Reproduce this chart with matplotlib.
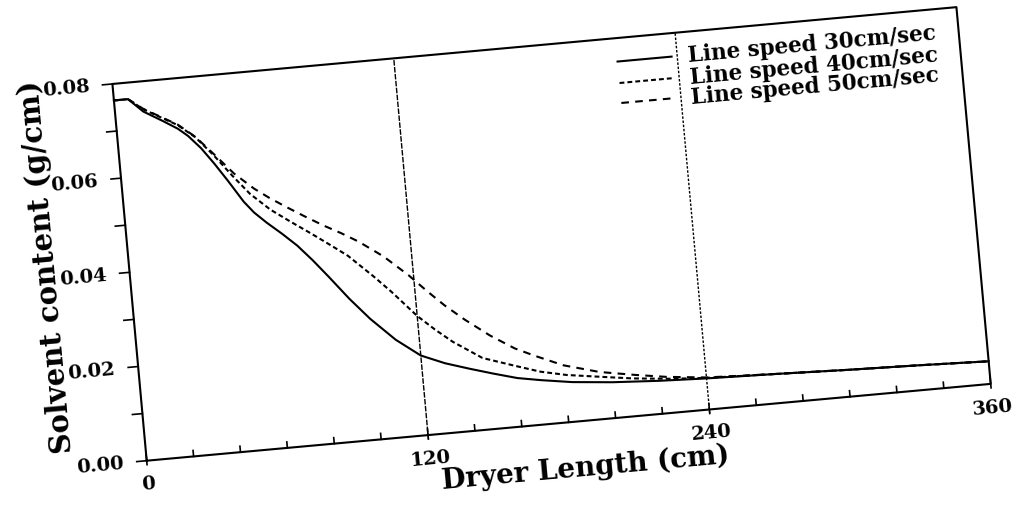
import matplotlib
matplotlib.use('Agg')
import matplotlib.pyplot as plt
from matplotlib.transforms import Affine2D, blended_transform_factory

# data (dryer length in cm, solvent content in g/cm)
x_30 = [0, 6, 12, 20, 26, 30, 35, 40, 45, 51, 55, 60, 66, 72, 78, 84, 92, 100, 110,
        120, 130, 140, 150, 160, 170, 183, 200, 220, 240, 270, 300, 330, 360]
y_30 = [0.0765, 0.0765, 0.0736, 0.0712, 0.0693, 0.0676, 0.0648, 0.0613, 0.0575,
        0.0527, 0.0502, 0.0478, 0.0452, 0.0424, 0.0390, 0.0353, 0.0302, 0.0256,
        0.0207, 0.0169, 0.0148, 0.0132, 0.0117, 0.0103, 0.0094, 0.0084, 0.0076,
        0.0070, 0.0066, 0.0062, 0.0057, 0.0053, 0.0048]

x_40 = [0, 6, 12, 20, 26, 33, 40, 47, 54, 62, 70, 78, 86, 93, 103, 110, 120,
        127, 134, 146, 159, 170, 181, 199, 209, 225, 240, 270, 300, 330, 360]
y_40 = [0.0765, 0.0765, 0.0741, 0.0718, 0.0701, 0.0672, 0.0631, 0.0585, 0.0542,
        0.0505, 0.0476, 0.0448, 0.0419, 0.0393, 0.0345, 0.0309, 0.0253, 0.0221,
        0.0192, 0.0152, 0.0130, 0.0112, 0.0100, 0.0087, 0.0080, 0.0072, 0.0067,
        0.0062, 0.0057, 0.0053, 0.0048]

x_50 = [0, 6, 12, 20, 26, 33, 40, 48, 56, 62, 69, 76, 84, 91, 98, 108, 118, 125,
        132, 140, 150, 160, 168, 180, 195, 210, 223, 240, 270, 300, 330, 360]
y_50 = [0.0765, 0.0765, 0.0742, 0.0719, 0.0702, 0.0673, 0.0634, 0.0588, 0.0552,
        0.0530, 0.0507, 0.0485, 0.0461, 0.0442, 0.0421, 0.0385, 0.0340, 0.0304,
        0.0270, 0.0236, 0.0198, 0.0166, 0.0147, 0.0121, 0.0100, 0.0087, 0.0077,
        0.0068, 0.0062, 0.0057, 0.0053, 0.0048]

legend_labels = ['Line speed 30cm/sec', 'Line speed 40cm/sec', 'Line speed 50cm/sec']
x_ticks = list(range(0, 361, 20))
x_ticklabels = [0, 120, 240, 360]
y_ticks = [i / 100 for i in range(0, 9)]
y_ticklabels = [0.00, 0.02, 0.04, 0.06, 0.08]
zone_lines = [120, 240]

plt.rcParams['lines.scale_dashes'] = False
W, H = 1026, 506
ANGLE = 5.2                      # the scan is tilted
ox, oy, aw, ah = 146.7, 44.3, 847.5, 378.3

fig = plt.figure(figsize=(W / 100, H / 100), dpi=100)
ax = fig.add_axes([ox / W, oy / H, aw / W, ah / H])
ax.set_xlim(0, 360)
ax.set_ylim(0, 0.08)
ax.axis('off')

rot = Affine2D().rotate_deg_around(ox, oy, ANGLE)
T = ax.transData + rot
TA = ax.transAxes + rot
TX = blended_transform_factory(ax.transData, ax.transAxes) + rot   # x data, y axes
TY = blended_transform_factory(ax.transAxes, ax.transData) + rot   # x axes, y data

lab_font = dict(family='DejaVu Serif', weight='bold', color='black')
num_font = dict(family='DejaVu Serif', weight='bold', color='black', fontsize=14)

# frame
ax.plot([0, 1, 1, 0, 0], [0, 0, 1, 1, 0], transform=TA, color='black', lw=1.5, clip_on=False)

# x ticks point inward, labelled ones poke out a little below
for xt in x_ticks:
    lo = -4 / ah if xt in x_ticklabels else 0
    ax.plot([xt, xt], [lo, 6 / ah], transform=TX, color='black', lw=1.2, clip_on=False)
for xt in x_ticklabels:
    ax.text(xt, -23 / ah, str(xt), transform=TX, ha='center', va='center',
            rotation=ANGLE, rotation_mode='anchor', **num_font)

# y ticks point outward
for yt in y_ticks:
    ax.plot([-10 / aw, 0], [yt, yt], transform=TY, color='black', lw=1.2, clip_on=False)
for yt in y_ticklabels:
    ax.text(-23 / aw, yt, '%.2f' % yt, transform=TY, ha='right', va='center',
            rotation=ANGLE, rotation_mode='anchor', **num_font)

# zone boundaries
ax.plot([zone_lines[0]] * 2, [-4 / ah, 1], transform=TX, color='black', lw=1.0,
        dashes=(4, 1), clip_on=False)
ax.plot([zone_lines[1]] * 2, [-4 / ah, 1], transform=TX, color='black', lw=1.0,
        dashes=(1.8, 1.2), clip_on=False)

# curves
styles = [dict(ls='-'), dict(dashes=(3.5, 2.2)), dict(dashes=(5.5, 4.5))]
series = [(x_30, y_30), (x_40, y_40), (x_50, y_50)]
for (xs, ys), st in zip(series, styles):
    ax.plot(xs, ys, transform=T, color='black', lw=1.5, clip_on=False, **st)

# legend drawn by hand so it tilts with the rest
rows = [0.938, 0.881, 0.828]
for lab, st, ry in zip(legend_labels, styles, rows):
    ax.plot([0.596, 0.660], [ry, ry], transform=TA, color='black', lw=1.5,
            clip_on=False, **st)
    ax.text(0.679, ry, lab, transform=TA, ha='left', va='center', fontsize=15.5,
            rotation=ANGLE, rotation_mode='anchor', **lab_font)

# axis titles
ax.text(0.515, -0.122, 'Dryer Length (cm)', transform=TA, ha='center', va='center',
        fontsize=20, rotation=ANGLE, rotation_mode='anchor', **lab_font)
ax.text(-0.0964, 0.536, 'Solvent content (g/cm)', transform=TA, ha='center', va='center',
        fontsize=21, rotation=90 + ANGLE, rotation_mode='anchor', **lab_font)

fig.savefig('out.png', dpi=100, facecolor='white')
